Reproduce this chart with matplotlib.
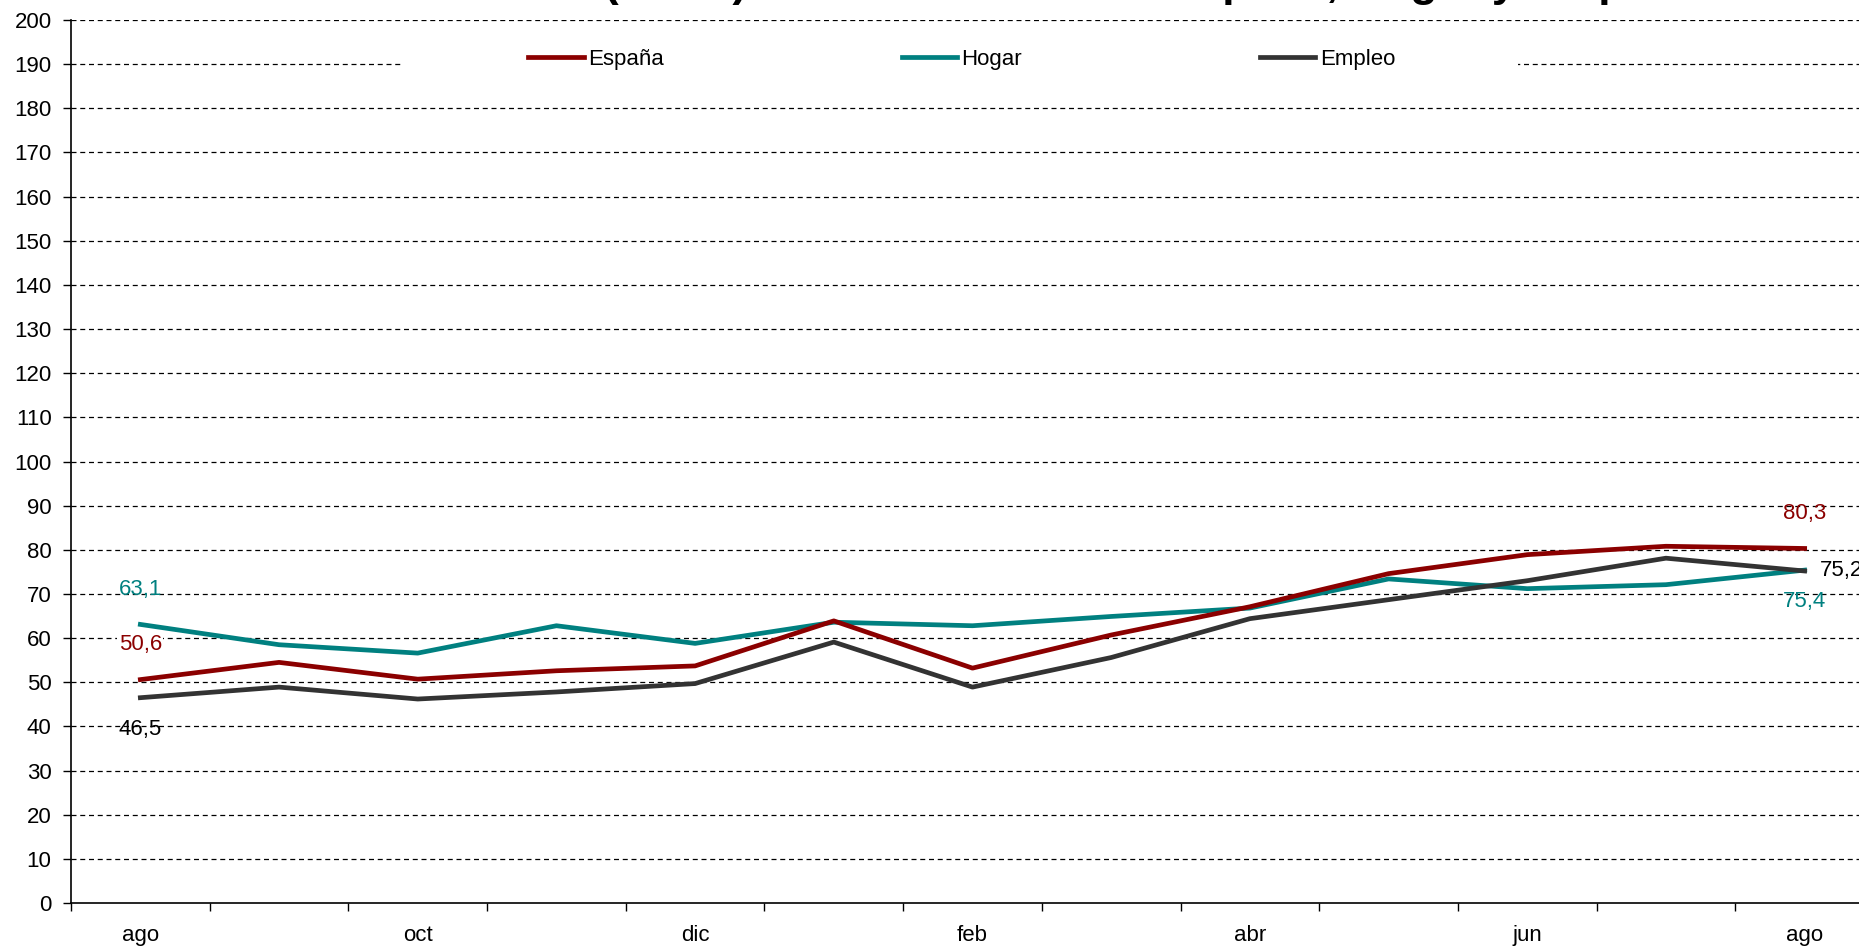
import numpy as np
import matplotlib.pyplot as plt
from matplotlib.patches import Rectangle

plt.rcParams['font.family'] = ['Liberation Sans', 'DejaVu Sans']

# Datos (índices mensuales, de agosto a agosto)
meses = ['ago', 'sep', 'oct', 'nov', 'dic', 'ene', 'feb',
         'mar', 'abr', 'may', 'jun', 'jul', 'ago']
espana = [50.6, 54.5, 50.7, 52.6, 53.7, 63.9, 53.2, 60.7, 67.1, 74.6, 78.9, 80.8, 80.3]
hogar = [63.1, 58.5, 56.6, 62.8, 58.8, 63.6, 62.8, 64.9, 66.8, 73.4, 71.2, 72.1, 75.4]
empleo = [46.5, 48.9, 46.2, 47.8, 49.7, 59.1, 48.9, 55.6, 64.4, 68.7, 73.0, 78.1, 75.2]

c_esp = '#8b0000'
c_hog = '#008080'
c_emp = '#333333'

fig = plt.figure(figsize=(18.59, 9.5), dpi=100)
ax = fig.add_axes([71 / 1859, 47 / 950, 1803 / 1859, 883 / 950])

x = np.arange(len(meses))
lw = 3.4
ax.plot(x, espana, color=c_esp, lw=lw, label='España', zorder=4)
ax.plot(x, hogar, color=c_hog, lw=lw, label='Hogar', zorder=3)
ax.plot(x, empleo, color=c_emp, lw=lw, label='Empleo', zorder=3)


def fmt(v):
    return f'{v:.1f}'.replace('.', ',')


# Etiquetas de los valores extremos
fs = 16
ax.text(x[0], hogar[0] + 8, fmt(hogar[0]), color=c_hog,
        fontsize=fs, ha='center', va='center')
ax.text(x[0], espana[0] + 8, fmt(espana[0]), color=c_esp,
        fontsize=fs, ha='center', va='center', zorder=5,
        bbox=dict(facecolor='white', edgecolor='none', pad=1))
ax.text(x[0], empleo[0] - 7.3, fmt(empleo[0]), color='black',
        fontsize=fs, ha='center', va='center')
ax.text(x[-1], espana[-1] + 8, fmt(espana[-1]), color=c_esp,
        fontsize=fs, ha='center', va='center')
ax.text(x[-1], hogar[-1] - 7, fmt(hogar[-1]), color=c_hog,
        fontsize=fs, ha='center', va='center')
ax.text(x[-1] + 0.11, empleo[-1], fmt(empleo[-1]), color='black',
        fontsize=fs, ha='left', va='center')

# Ejes
ax.set_xlim(-0.5, len(meses) - 0.5)
ax.set_ylim(0, 200)
ax.set_yticks(np.arange(0, 201, 10))
ax.set_xticks(x[::2])
ax.set_xticklabels(meses[::2])
ax.set_xticks(np.arange(-0.5, len(meses), 1), minor=True)
ax.tick_params(axis='x', which='major', length=0, pad=16, labelsize=fs)
ax.tick_params(axis='x', which='minor', length=6, width=1, direction='out')
ax.tick_params(axis='y', length=6, width=1, direction='out', pad=8, labelsize=fs)

for s in ['top', 'right']:
    ax.spines[s].set_visible(False)
ax.spines['left'].set_linewidth(1.2)
ax.spines['bottom'].set_linewidth(1.2)

for v in range(10, 201, 10):
    ax.axhline(v, color='black', lw=0.9, ls=(0, (4, 3)), zorder=1)

# Fondo blanco de la leyenda
ax.add_patch(Rectangle((1.894, 184), 9.933 - 1.894, 12, facecolor='white',
                       edgecolor='none', zorder=2))
leg = ax.legend(loc='center left', bbox_to_anchor=((528 - 71) / 1803, (903 - 59) / 883),
                ncol=3, frameon=False, fontsize=fs, handlelength=2.5,
                handletextpad=0.2, columnspacing=10.7, borderpad=0,
                borderaxespad=0)

# Título (cortado por el borde superior)
fig.text(379 / 1859, 1.004,
         'Confianza (0-200) del consumidor en España, Hogar y Empleo',
         ha='left', va='baseline', fontsize=32, fontweight='bold')

fig.savefig('out.png', dpi=100)
